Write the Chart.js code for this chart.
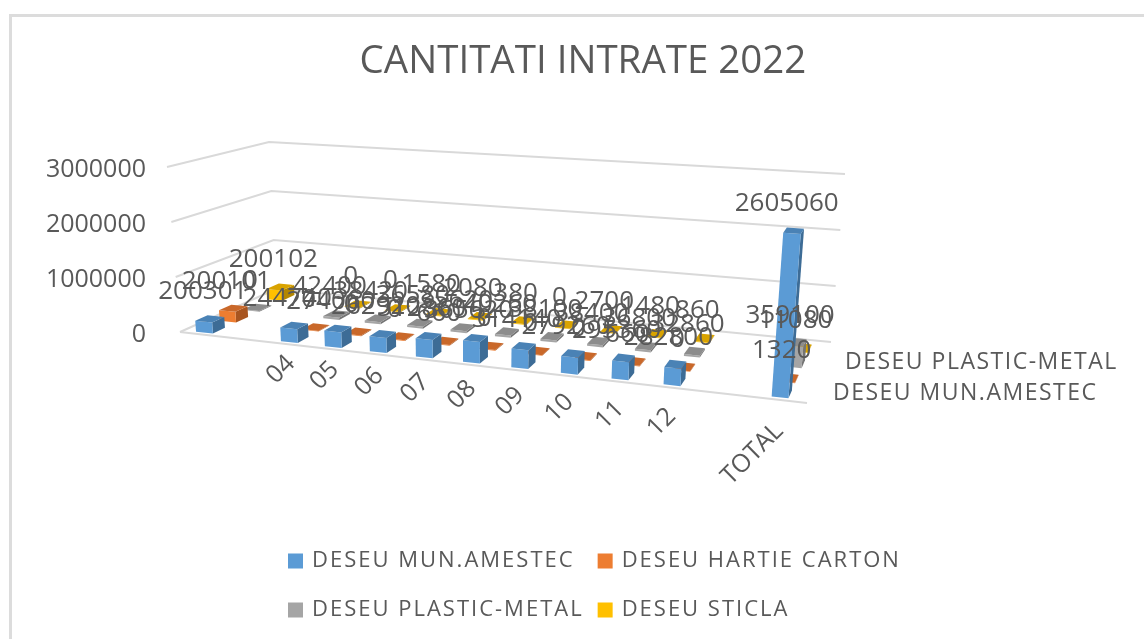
<!DOCTYPE html>
<html><head><meta charset="utf-8">
<style>
html,body{margin:0;padding:0;background:#fff;overflow:hidden;width:1144px;height:639px}
#frame{position:absolute;left:9px;top:14px;width:1300px;height:800px;border:3px solid #dcdcdc;box-sizing:border-box}
canvas{position:absolute;left:0;top:0;filter:blur(0.55px)}
</style>
<script src="https://cdn.jsdelivr.net/npm/chart.js@4/dist/chart.umd.js"></script>
</head><body><div id="frame"></div><canvas id="c" width="1166" height="639"></canvas>
<script>
const titleText = 'CANTITATI INTRATE 2022';
const categories = ['', ' ', '04', '05', '06', '07', '08', '09', '10', '11', '12', '  ', 'TOTAL'];
const seriesNames = ['DESEU MUN.AMESTEC', 'DESEU HARTIE CARTON', 'DESEU PLASTIC-METAL', 'DESEU STICLA'];
const munAmestec  = [200301, null, 244740, 274060, 262920, 312860, 365620, 314140, 279260, 295360, 282800, null, 2605060];
const hartie      = [200101, null, 0, 0, 0, 660, 0, 0, 0, 660, 0, null, 1320];
const plastic     = [0, null, 42400, 38420, 36580, 35620, 40260, 38100, 38400, 36800, 32860, null, 359100];
const sticla      = [200102, null, 0, 0, 1580, 2080, 380, 0, 2700, 1480, 860, null, 11080];
const depthLabels = ['DESEU MUN.AMESTEC', 'DESEU PLASTIC-METAL'];
const colours = ['#5b9bd5', '#ed7d31', '#a5a5a5', '#ffc000'];
const sideColours = ['#3d6c96', '#a85520', '#747474', '#b38600'];
const topColours = ['#4a82b5', '#c9682a', '#8c8c8c', '#d9a300'];
const FONT = '"Open Sans"';
const TXT = '#595959';

/* view: the eight corners of the 3D box the scales are projected into */
const F0 = [[180,332],[807,403]], B0 = [[276,289],[831,342]];
const F1 = [[167,167],[822,212]], B1 = [[269,142],[845,174]];
const lerp = (a,b,t)=>[a[0]+(b[0]-a[0])*t, a[1]+(b[1]-a[1])*t];
function P(u,d,h){
  const f = lerp(lerp(F0[0],F0[1],u), lerp(F1[0],F1[1],u), h);
  const b = lerp(lerp(B0[0],B0[1],u), lerp(B1[0],B1[1],u), h);
  return lerp(f,b,d);
}
const R = 1.17;
const persp = t => t/(t+(1-t)*R);
function poly(ctx,pts,fill){
  ctx.beginPath(); pts.forEach((p,i)=> i?ctx.lineTo(p[0],p[1]):ctx.moveTo(p[0],p[1])); ctx.closePath();
  ctx.fillStyle=fill; ctx.fill();
}
const HW=0.0135, HD=0.065;
function geom(chart,el,s){
  const a=chart.chartArea;
  const t=(el.x-a.left)/(a.right-a.left);
  const h=(a.bottom-el.y)/(a.bottom-a.top);
  return {u:persp(t), d:(s+0.5)/4-0.02, h};
}
const view = {
  id:'view3d',
  beforeLayout(chart){
    const lg=chart.legend;
    if(lg && !lg.$wrapped){
      const fit=lg.fit;
      lg.fit=function(){ fit.call(this); this.height=0; };
      /* two aligned columns of legend items, as in the reference */
      lg.draw=function(){
        const ctx=this.ctx, items=this.legendItems;
        ctx.save();
        ctx.font='22px '+FONT; ctx.letterSpacing='2px'; ctx.textBaseline='middle'; ctx.textAlign='left';
        const colW=Math.max(ctx.measureText(items[0].text).width, ctx.measureText(items[2].text).width);
        const xs=[288, 312+colW+14], ys=[561,610];
        items.forEach((it,i)=>{
          const x=xs[i%2], y=ys[i>>1];
          ctx.fillStyle=it.fillStyle; ctx.fillRect(x,y-7.5,15,15);
          ctx.fillStyle=TXT; ctx.fillText(it.text,x+24,y);
        });
        ctx.restore();
      };
      lg.$wrapped=true;
    }
  },
  beforeDatasetsDraw(chart){
    const ctx=chart.ctx, y=chart.scales.y, a=chart.chartArea;
    ctx.save(); ctx.strokeStyle='#d9d9d9'; ctx.lineWidth=2;
    y.ticks.forEach(tk=>{
      const h=(a.bottom-y.getPixelForValue(tk.value))/(a.bottom-a.top);
      const p=[P(0,0,h),P(0,1,h),P(1,1,h)];
      ctx.beginPath(); ctx.moveTo(...p[0]); ctx.lineTo(...p[1]); ctx.lineTo(...p[2]); ctx.stroke();
      if(tk.value===0){ ctx.beginPath(); ctx.moveTo(...P(0,0,0)); ctx.lineTo(...P(1,0,0)); ctx.stroke(); }
    });
    ctx.restore();
  },
  beforeDatasetDraw(chart,args){
    const ctx=chart.ctx, s=args.index, vals=chart.data.datasets[s].data;
    args.meta.data.forEach((el,i)=>{
      if(vals[i]==null) return;
      const g=geom(chart,el,s);
      const h=Math.max(g.h,0.004);
      const uL=g.u-HW,uR=g.u+HW,dF=g.d-HD,dB=g.d+HD;
      poly(ctx,[P(uR,dF,0),P(uR,dB,0),P(uR,dB,h),P(uR,dF,h)],sideColours[s]);
      poly(ctx,[P(uL,dF,0),P(uR,dF,0),P(uR,dF,h),P(uL,dF,h)],colours[s]);
      poly(ctx,[P(uL,dF,h),P(uR,dF,h),P(uR,dB,h),P(uL,dB,h)],topColours[s]);
    });
    return false;
  },
  afterDatasetsDraw(chart){
    const ctx=chart.ctx, a=chart.chartArea, xs=chart.scales.x;
    ctx.save();
    ctx.fillStyle=TXT; ctx.textAlign='center'; ctx.textBaseline='middle';
    ctx.font='26px '+FONT;
    chart.data.datasets.forEach((ds,s)=>{
      chart.getDatasetMeta(s).data.forEach((el,i)=>{
        if(ds.data[i]==null) return;
        const g=geom(chart,el,s);
        const p=P(g.u,g.d,Math.max(g.h,0.004));
        ctx.fillText(String(ds.data[i]),p[0]-7,p[1]-27);
      });
    });
    /* category labels along the front edge of the floor */
    ctx.textAlign='right'; ctx.font='25px '+FONT;
    chart.data.labels.forEach((lab,i)=>{
      if(!lab.trim()) return;
      const t=(xs.getPixelForValue(i)-a.left)/(a.right-a.left);
      const u=persp(t), p=P(u,0,0);
      ctx.save(); ctx.translate(p[0]+6-6*u,p[1]+13+15*u); ctx.rotate(-Math.PI/4);
      ctx.fillText(lab,0,0); ctx.restore();
    });
    /* depth-axis labels */
    ctx.textAlign='left'; ctx.font='23px '+FONT; ctx.letterSpacing='1.5px';
    depthLabels.forEach(name=>{
      const s=seriesNames.indexOf(name);
      const p=P(1,(s+0.5)/4,0);
      ctx.fillText(name,p[0]+23,p[1]-2);
    });
    ctx.letterSpacing='0px';
    ctx.restore();
  }
};
new Chart(document.getElementById('c'),{
  type:'bar',
  data:{labels:categories,datasets:[munAmestec,hartie,plastic,sticla].map((d,i)=>({
    label:seriesNames[i],data:d,backgroundColor:colours[i],borderWidth:0,grouped:false}))},
  plugins:[view],
  options:{
    responsive:false,animation:false,
    layout:{padding:{left:0,right:0,top:0,bottom:304}},
    plugins:{
      title:{display:true,text:titleText,color:TXT,font:{family:FONT,size:38.5,weight:'normal',lineHeight:1.2},
        padding:{top:39,bottom:85}},
      legend:{display:true,position:'bottom',align:'start',
        labels:{boxWidth:15,boxHeight:15,padding:27,color:TXT,font:{family:FONT,size:22}}},
      tooltip:{enabled:false}
    },
    scales:{
      x:{display:false,grid:{display:false}},
      y:{min:0,max:3000000,
        ticks:{stepSize:1000000,color:TXT,padding:13,font:{family:FONT,size:25},callback:v=>String(v)},
        grid:{display:false},border:{display:false},
        afterFit(s){s.width=167;}}
    }
  }
});
</script></body></html>
